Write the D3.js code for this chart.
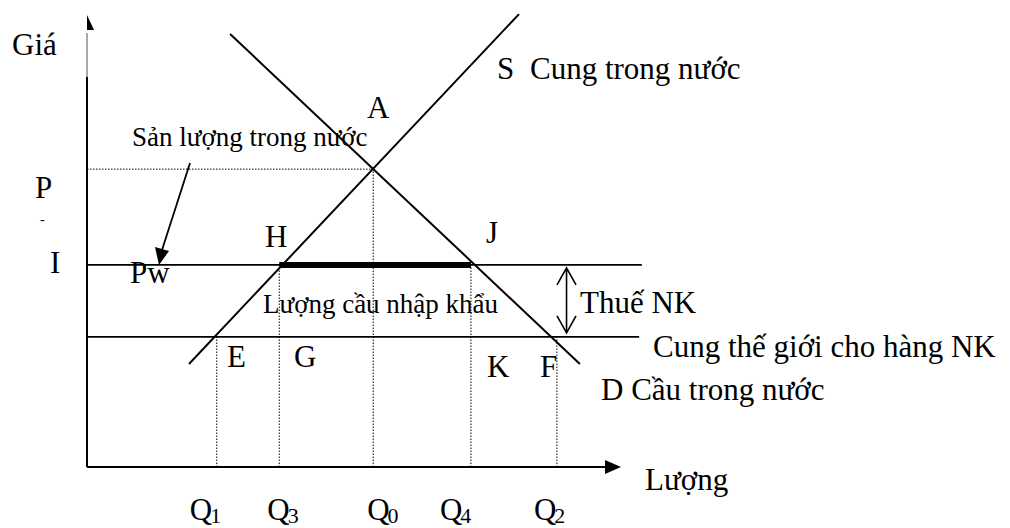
<!DOCTYPE html>
<html>
<head>
<meta charset="utf-8">
<script src="https://cdn.jsdelivr.net/npm/d3@7"></script>
<style>
	body { margin: 0; background: #fff; }
	svg text { font-family: "Liberation Serif", "Times New Roman", serif; fill: #000; }
</style>
</head>
<body>
<div id="chart"></div>
<script>
// quantities on the horizontal axis (0..100 units)
const qNames = ["1", "3", "0", "4", "2"];
const qValues = [24.3, 36.0, 53.6, 71.9, 88.0];
// price level each quantity's dotted guide reaches: 0 = world, 1 = world + tariff, 2 = no trade
const qLevel = [0, 1, 2, 1, 0];

// price levels (0..100 units)
const priceNames = ["Pw", "Pt", "P0"];
const priceValues = [28.8, 44.7, 65.9];
const priceLineEnd = [103.4, 103.9];

// supply and demand lines, given by their two ends
const supplyQ = [19.1, 80.9];
const supplyP = [22.8, 100.2];
const demandQ = [26.8, 92.3];
const demandP = [95.8, 22.8];

const width = 1010,
	height = 528,
	big = 31,
	small = 27;

const svg = d3.select('#chart').append('svg')
	.attr('width', width)
	.attr('height', height);

const x = d3.scaleLinear().domain([0, 100]).range([87, 621]);
const y = d3.scaleLinear().domain([0, 100]).range([467, 15]);
const line = d3.line().x(d => x(d[0])).y(d => y(d[1]));

// ### axes
svg.append('path')
	.attr('d', line([[0, 0], [0, y.invert(77)]]))
	.attr('stroke', '#000').attr('stroke-width', 2).attr('fill', 'none');
svg.append('path')
	.attr('d', line([[0, y.invert(77)], [0, 96]]))
	.attr('stroke', '#555').attr('stroke-width', 1).attr('fill', 'none');
// half arrow head on the price axis
svg.append('path')
	.attr('d', `M${x(0)},${y(100)} L${x(0) + 7},${y(100) + 15} L${x(0)},${y(100) + 15} Z`)
	.attr('fill', '#000');

svg.append('path')
	.attr('d', line([[0, 0], [x.invert(x(100) - 14), 0]]))
	.attr('stroke', '#000').attr('stroke-width', 2).attr('fill', 'none');
svg.append('path')
	.attr('d', `M${x(100)},${y(0)} L${x(100) - 16},${y(0) - 7} L${x(100) - 16},${y(0) + 7} Z`)
	.attr('fill', '#000');

// ### dotted guides
svg.append('path')
	.attr('d', line([[0, priceValues[2]], [qValues[2], priceValues[2]]]))
	.attr('stroke', '#000').attr('stroke-width', 1).attr('stroke-dasharray', '1.5,1.5').attr('fill', 'none');

svg.selectAll('.guide')
	.data(qValues)
	.enter()
	.append('path')
	.classed('guide', true)
	.attr('d', (d, i) => line([[d, 0], [d, priceValues[qLevel[i]]]]))
	.attr('stroke', '#000').attr('stroke-width', 1).attr('stroke-dasharray', '1.5,1.5').attr('fill', 'none');

// ### price lines
svg.selectAll('.price-line')
	.data(priceValues.slice(0, 2))
	.enter()
	.append('path')
	.classed('price-line', true)
	.attr('d', (d, i) => line([[0, d], [priceLineEnd[i], d]]))
	.attr('stroke', '#000').attr('stroke-width', 1.8).attr('fill', 'none');

// import quantity, bold
svg.append('path')
	.attr('d', line([[qValues[1], priceValues[1]], [qValues[3], priceValues[1]]]))
	.attr('stroke', '#000').attr('stroke-width', 6).attr('fill', 'none');

// ### text labels
const label = (txt, px, py, size) => svg.append('text')
	.attr('x', px).attr('y', py)
	.style('font-size', size + 'px')
	.text(txt);

label('Sản lượng trong nước', 132, 146, small);
label('Lượng cầu nhập khẩu', 263, 313, small);

// ### supply and demand
svg.append('path')
	.attr('d', line(supplyQ.map((q, i) => [q, supplyP[i]])))
	.attr('stroke', '#000').attr('stroke-width', 2).attr('fill', 'none');
svg.append('path')
	.attr('d', line(demandQ.map((q, i) => [q, demandP[i]])))
	.attr('stroke', '#000').attr('stroke-width', 2).attr('fill', 'none');

// arrow from the note to Pw
svg.append('path')
	.attr('d', 'M190,163 L162,250')
	.attr('stroke', '#000').attr('stroke-width', 1.8);
svg.append('path')
	.attr('d', 'M159,265 L155,247 L169,251 Z')
	.attr('fill', '#000');

// tariff double arrow
const tx = x(89.8), ty1 = y(priceValues[1]) + 3, ty2 = y(priceValues[0]) - 4;
svg.append('path')
	.attr('d', `M${tx},${ty1} L${tx},${ty2} M${tx - 9.5},${ty1 + 17} L${tx},${ty1} L${tx + 9.5},${ty1 + 17} M${tx - 9.5},${ty2 - 17} L${tx},${ty2} L${tx + 9.5},${ty2 - 17}`)
	.attr('stroke', '#000').attr('stroke-width', 1.6).attr('fill', 'none');

label('Giá', 12, 55, big);
label('P', 35, 198, big);
label('-', 40, 224, 14);
label('I', 50, 273, big);
label('Pw', 130, 283, big);
label('A', 367, 118, big);
label('H', 265, 247, big);
label('J', 486, 243, big);
label('E', 227, 367, big);
label('G', 294, 367, big);
label('K', 487, 377, big);
label('F', 540, 377, big);
label('S', 497, 79, big);
label('Cung trong nước', 530, 79, big);
label('Thuế NK', 580, 313, big);
label('Cung thế giới cho hàng NK', 653, 357, big);
label('D Cầu trong nước', 601, 400, big);
label('Lượng', 645, 490, big);

// quantity labels with subscripts
const qOffset = [-27, -12, -6, -31, -23];
qValues.forEach((q, i) => {
	const t = svg.append('text')
		.attr('x', x(q) + qOffset[i])
		.attr('y', 520)
		.style('font-size', big + 'px');
	t.append('tspan').text('Q');
	t.append('tspan')
		.attr('dx', -2)
		.attr('dy', 3)
		.style('font-size', '22px')
		.text(qNames[i]);
});
</script>
</body>
</html>
